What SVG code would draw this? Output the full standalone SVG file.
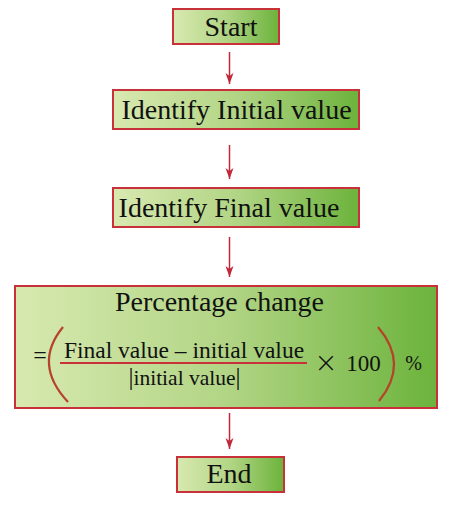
<svg xmlns="http://www.w3.org/2000/svg" width="474" height="508" viewBox="0 0 474 508">
<defs>
<linearGradient id="g" x1="0" y1="0" x2="1" y2="0">
<stop offset="0" stop-color="#d8e9b0"/>
<stop offset="0.5" stop-color="#b2d585"/>
<stop offset="1" stop-color="#6cb33c"/>
</linearGradient>
<marker id="ah" markerUnits="userSpaceOnUse" markerWidth="12" markerHeight="10" refX="11" refY="4" orient="auto">
<path d="M0,0 L11,4 L0,8 L3,4 z" fill="#c0283a"/>
</marker>
<style>
.box{fill:url(#g);stroke:#c8313a;stroke-width:2}
.t{font-family:"Liberation Serif","Times New Roman",serif;fill:#111;text-anchor:middle}
.c{stroke:#c0283a;stroke-width:1.5;fill:none;marker-end:url(#ah)}
.par{stroke:#b5432a;stroke-width:2.2;fill:none}
</style>
</defs>
<rect width="474" height="508" fill="#fff"/>
<g id="connectors">
<line class="c" x1="229.5" y1="52" x2="229.5" y2="84"/>
<line class="c" x1="229.5" y1="145" x2="229.5" y2="179"/>
<line class="c" x1="229.5" y1="237" x2="229.5" y2="277"/>
<line class="c" x1="229.5" y1="413" x2="229.5" y2="449"/>
</g>
<g id="start">
<rect class="box" x="173" y="9" width="106" height="35"/>
<text class="t" x="231" y="36" font-size="28">Start</text>
</g>
<g id="initial">
<rect class="box" x="113" y="90" width="246" height="39"/>
<text class="t" x="236.5" y="119" font-size="28">Identify Initial value</text>
</g>
<g id="final">
<rect class="box" x="113" y="188" width="246" height="39"/>
<text class="t" x="229" y="217" font-size="28">Identify Final value</text>
</g>
<g id="percentage">
<rect class="box" x="15" y="286" width="422" height="122"/>
<text class="t" x="219.5" y="311" font-size="28">Percentage change</text>
<text class="t" x="40" y="363" font-size="24">=</text>
<path class="par" d="M63,327 Q32.5,364 68,402"/>
<path class="par" d="M378,327 Q409.5,364 379,401"/>
<text class="t" x="184" y="358" font-size="23.5">Final value – initial value</text>
<line x1="60" y1="363" x2="307" y2="363" stroke="#c8313a" stroke-width="2"/>
<text class="t" x="184.5" y="385" font-size="21.5"><tspan font-size="25">|</tspan>initial value<tspan font-size="25">|</tspan></text>
<text class="t" x="326" y="372" font-size="28" style="font-family:'DejaVu Sans',sans-serif;font-weight:300">×</text>
<text class="t" x="363.5" y="371" font-size="23">100</text>
<text class="t" x="413.5" y="370" font-size="20">%</text>
</g>
<g id="end">
<rect class="box" x="177" y="457" width="107" height="35"/>
<text class="t" x="229" y="483" font-size="28">End</text>
</g>
</svg>
